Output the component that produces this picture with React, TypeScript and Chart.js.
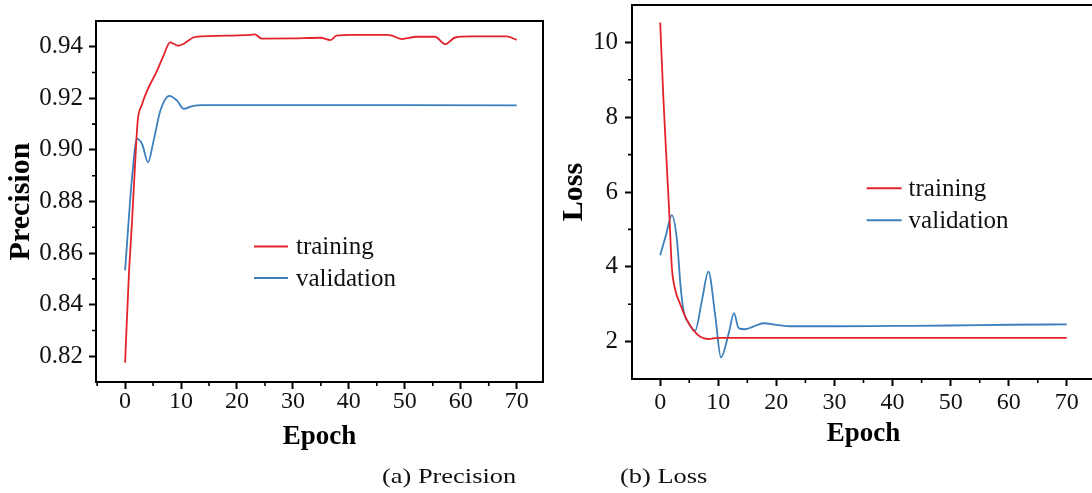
import React, { useEffect, useRef } from 'react';
import { Chart, registerables } from 'chart.js';
Chart.register(...registerables);

const SERIF = '"Liberation Serif", "Times New Roman", Times, serif';
const RED = '#e3232a';
const BLUE = '#3c7fbd';

// ---- Precision (a) ----
const precTrainEpochs = [0, 0.66, 1.25, 1.85, 2.26, 3.0, 3.9, 5.7, 6.85, 8.04, 9.5, 10.5, 12.2, 13.4, 18, 22.3, 23.2, 24.4, 30, 34.9, 36.7, 37.8, 40.8, 46.8, 47.7, 49.5, 50.5, 52.1, 55.4, 57.2, 59, 61.7, 68.2, 70];
const precTrainValues = [0.8175, 0.8507, 0.8727, 0.8972, 0.9114, 0.9175, 0.9228, 0.9307, 0.9365, 0.9417, 0.9404, 0.9412, 0.9436, 0.944, 0.9443, 0.9446, 0.9448, 0.9432, 0.9433, 0.9435, 0.9426, 0.9443, 0.9446, 0.9446, 0.9443, 0.943, 0.9434, 0.9439, 0.9439, 0.941, 0.9436, 0.944, 0.944, 0.9427];
const precValEpochs = [0, 1.25, 2.14, 3.04, 4.1, 5.1, 6.3, 7.9, 9.3, 10.5, 12, 13.8, 70];
const precValValues = [0.8533, 0.8894, 0.9043, 0.9023, 0.8952, 0.9036, 0.9152, 0.921, 0.9191, 0.9159, 0.917, 0.9174, 0.9173];

// ---- Loss (b) ----
const lossTrainEpochs = [0, 0.57, 1.15, 1.6, 2.0, 2.6, 3.4, 4.6, 5.7, 6.9, 8.3, 10, 20, 70];
const lossTrainValues = [10.53, 8.45, 6.67, 5.33, 4.0, 3.38, 3.02, 2.58, 2.31, 2.13, 2.07, 2.1, 2.1, 2.1];
const lossValEpochs = [0, 1, 2, 2.9, 3.5, 4.0, 4.9, 6.0, 7.2, 8.3, 9.5, 10.45, 11.8, 12.7, 13.5, 14.6, 16, 17.8, 20, 22.5, 30, 40, 50, 60, 70];
const lossValValues = [4.31, 4.85, 5.38, 4.7, 3.5, 2.85, 2.49, 2.29, 3.11, 3.87, 2.67, 1.58, 2.22, 2.76, 2.36, 2.33, 2.4, 2.49, 2.45, 2.41, 2.41, 2.42, 2.43, 2.45, 2.46];

// ---- ticks ----
const xMajorTicks = [0, 10, 20, 30, 40, 50, 60, 70];
const xMinorTicks = [-5, 5, 15, 25, 35, 45, 55, 65, 75];
const precMajorTicks = [0.82, 0.84, 0.86, 0.88, 0.9, 0.92, 0.94];
const precMinorTicks = [0.83, 0.85, 0.87, 0.89, 0.91, 0.93];
const lossMajorTicks = [2, 4, 6, 8, 10];
const lossMinorTicks = [3, 5, 7, 9];

const framePlugin = {
  id: 'frame',
  afterDraw(chart: any, _args: any, o: any) {
    const { ctx, chartArea: a, scales } = chart;
    const xs = scales.x;
    const ys = scales.y;
    ctx.save();
    ctx.strokeStyle = '#000';
    ctx.lineWidth = 2;
    ctx.beginPath();
    ctx.moveTo(a.left - 1, a.top);
    ctx.lineTo(a.right, a.top);
    ctx.lineTo(a.right, a.bottom);
    ctx.stroke();
    ctx.lineWidth = 1.6;
    ctx.beginPath();
    o.xMinor.forEach((v: number) => {
      if (v >= xs.min && v < xs.max) {
        const px = xs.getPixelForValue(v);
        ctx.moveTo(px, a.bottom);
        ctx.lineTo(px, a.bottom + 4);
      }
    });
    o.yMinor.forEach((v: number) => {
      if (v > ys.min && v < ys.max) {
        const py = ys.getPixelForValue(v);
        ctx.moveTo(a.left, py);
        ctx.lineTo(a.left - 4, py);
      }
    });
    ctx.stroke();
    // legend inside plot
    ctx.font = '25px ' + SERIF;
    ctx.textBaseline = 'middle';
    ctx.textAlign = 'left';
    chart.data.datasets.forEach((ds: any, i: number) => {
      const x0 = a.left + o.dx;
      const y0 = a.top + o.dy + i * o.gap;
      ctx.strokeStyle = ds.borderColor;
      ctx.lineWidth = 2;
      ctx.beginPath();
      ctx.moveTo(x0, y0);
      ctx.lineTo(x0 + o.lineLen, y0);
      ctx.stroke();
      ctx.fillStyle = '#111';
      ctx.fillText(ds.label, x0 + o.lineLen + o.textGap, y0 + 1);
    });
    ctx.restore();
  },
};

function build(canvas: HTMLCanvasElement, p: any) {
  const pts = (e: number[], v: number[]) => e.map((x, i) => ({ x, y: v[i] }));
  const noPad = (s: any) => { s.paddingTop = 0; s.paddingBottom = 0; s.paddingLeft = 0; s.paddingRight = 0; };
  return new Chart(canvas, {
    type: 'line',
    data: {
      datasets: [
        { label: 'training', data: pts(p.trainE, p.trainV), borderColor: RED, backgroundColor: RED, borderWidth: 1.8, pointRadius: 0, cubicInterpolationMode: 'monotone', fill: false },
        { label: 'validation', data: pts(p.valE, p.valV), borderColor: BLUE, backgroundColor: BLUE, borderWidth: 1.8, pointRadius: 0, cubicInterpolationMode: 'monotone', fill: false },
      ],
    },
    options: {
      animation: false,
      responsive: false,
      events: [],
      layout: { padding: { top: p.padTop, right: p.padRight, left: 0, bottom: 0 } },
      plugins: {
        legend: { display: false },
        tooltip: { enabled: false },
        frame: p.frame,
      } as any,
      scales: {
        x: {
          type: 'linear',
          min: p.xMin,
          max: p.xMax,
          afterBuildTicks: (s: any) => { s.ticks = xMajorTicks.map((v) => ({ value: v })); },
          afterFit: (s: any) => { s.height = p.xH; noPad(s); },
          grid: { drawOnChartArea: false, drawTicks: true, tickLength: 7, tickWidth: 2, tickColor: '#000' },
          border: { display: true, color: '#000', width: 2 },
          ticks: { color: '#111', font: { family: SERIF, size: 24, lineHeight: 1 }, padding: p.xLabelPad, maxRotation: 0, autoSkip: false, callback: (v: any) => String(v) },
          title: { display: true, text: 'Epoch', color: '#000', font: { family: SERIF, size: 27, weight: 'bold', lineHeight: 1 }, padding: { top: 0, bottom: p.xTitlePad } },
        },
        y: {
          type: 'linear',
          min: p.yMin,
          max: p.yMax,
          afterBuildTicks: (s: any) => { s.ticks = p.yMajor.map((v: number) => ({ value: v })); },
          afterFit: (s: any) => { s.width = p.yW; noPad(s); },
          grid: { drawOnChartArea: false, drawTicks: true, tickLength: 7, tickWidth: 2, tickColor: '#000' },
          border: { display: true, color: '#000', width: 2 },
          ticks: { color: '#111', font: { family: SERIF, size: 25, lineHeight: 1 }, padding: p.yLabelPad, autoSkip: false, callback: p.yFmt },
          title: { display: true, text: p.yTitle, color: '#000', font: { family: SERIF, size: 30, weight: 'bold', lineHeight: 1 }, padding: { top: p.yTitlePad, bottom: 0 } },
        },
      },
    } as any,
    plugins: [framePlugin],
  });
}

export default function App() {
  const leftRef = useRef<HTMLCanvasElement>(null);
  const rightRef = useRef<HTMLCanvasElement>(null);

  useEffect(() => {
    const c1 = build(leftRef.current!, {
      trainE: precTrainEpochs, trainV: precTrainValues, valE: precValEpochs, valV: precValValues,
      padTop: 21, padRight: 17, xH: 88, yW: 96,
      xMin: -5.2, xMax: 74.7, yMin: 0.81, yMax: 0.95,
      yMajor: precMajorTicks, yFmt: (v: any) => Number(v).toFixed(2),
      yTitle: 'Precision', yTitlePad: 6, yLabelPad: 6, xLabelPad: 1, xTitlePad: 19.5,
      frame: { xMinor: xMinorTicks, yMinor: precMinorTicks, dx: 158, dy: 225.5, gap: 31.5, lineLen: 34, textGap: 8 },
    });
    const c2 = build(rightRef.current!, {
      trainE: lossTrainEpochs, trainV: lossTrainValues, valE: lossValEpochs, valV: lossValValues,
      padTop: 5, padRight: 21, xH: 91, yW: 86,
      xMin: -4.85, xMax: 74.85, yMin: 1, yMax: 11,
      yMajor: lossMajorTicks, yFmt: (v: any) => String(Math.round(Number(v))),
      yTitle: 'Loss', yTitlePad: 13, yLabelPad: 7, xLabelPad: 5, xTitlePad: 22,
      frame: { xMinor: xMinorTicks, yMinor: lossMinorTicks, dx: 234.6, dy: 183.3, gap: 32, lineLen: 35, textGap: 7 },
    });
    return () => { c1.destroy(); c2.destroy(); };
  }, []);

  const cap: React.CSSProperties = {
    position: 'absolute', top: 464, fontFamily: SERIF, fontSize: 22, lineHeight: '24px',
    color: '#111', whiteSpace: 'nowrap', transform: 'scaleX(1.2)', transformOrigin: 'left top',
  };

  return (
    <div style={{ position: 'absolute', left: 0, top: 0, width: 1092, height: 493, overflow: 'hidden', background: '#fff' }}>
      <canvas ref={leftRef} width={560} height={470} style={{ position: 'absolute', left: 0, top: 0 }} />
      <canvas ref={rightRef} width={570} height={470} style={{ position: 'absolute', left: 546, top: 0 }} />
      <span style={{ ...cap, left: 382 }}>(a) Precision</span>
      <span style={{ ...cap, left: 620 }}>(b) Loss</span>
    </div>
  );
}
